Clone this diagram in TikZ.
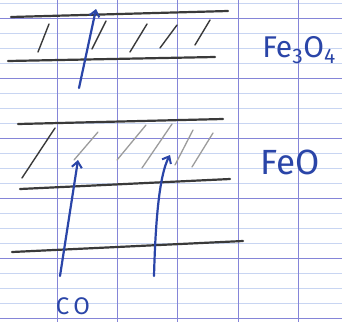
\documentclass[tikz,border=0pt]{standalone}
\usepackage{fontspec}
\setmainfont{Fira Sans}
\usetikzlibrary{arrows.meta}
\definecolor{ink}{HTML}{2A45A8}
\definecolor{major}{HTML}{8585D8}
\definecolor{minor}{HTML}{C8D5F2}
\definecolor{pencil}{HTML}{3A3A3A}
\definecolor{lightpencil}{HTML}{9C9C9C}
\tikzset{
  gridmajor/.style={draw=major, line width=0.9pt},
  gridminor/.style={draw=minor, line width=0.6pt},
  layerline/.style={draw=pencil, line width=2.2pt, line cap=round},
  hatch/.style={draw=pencil, line width=1.4pt, line cap=round},
  hatchlight/.style={draw=lightpencil, line width=1.3pt, line cap=round},
  flow/.style={draw=ink, line width=2.2pt, line cap=round, -{Straight Barb[length=6pt,width=10pt,line width=2pt]}},
  label/.style={text=ink, inner sep=0pt}
}
\begin{document}
\begin{tikzpicture}[x=1pt,y=-1pt]
\useasboundingbox (0,0) rectangle (342,322);
\fill[white] (0,0) rectangle (342,322);
% paper grid
\foreach \y in {3,33,48,63,93,108,123,153,168,183,213,228,243,273,288,303}
  \draw[gridminor] (0,\y) -- (342,\y);
\foreach \y in {18,78,138,198,258,318}
  \draw[gridmajor] (0,\y) -- (342,\y);
\foreach \x in {57,117,177,238,298}
  \draw[gridmajor] (\x,0) -- (\x,322);
% Fe3O4 layer
\draw[layerline] (11,17) -- (228,11);
\draw[layerline] (8,61) -- (215,57);
\draw[hatch] (38,52) -- (49,24);
\draw[hatch] (92,49) -- (106,21);
\draw[hatch] (130,52) -- (147,24);
\draw[hatch] (160,48) -- (177,25);
\draw[hatch] (195,45) -- (210,20);
% FeO layer
\draw[layerline] (18,124) -- (223,119);
\draw[layerline] (20,189) -- (230,179);
\draw[hatch] (22,178) -- (55,128);
\draw[hatchlight] (74,160) -- (98,132);
\draw[hatchlight] (117,160) -- (146,125);
\draw[hatchlight] (142,168) -- (172,124);
\draw[hatchlight] (175,165) -- (193,130);
\draw[hatchlight] (192,167) -- (213,133);
% bottom line
\draw[layerline] (12,252) -- (243,241);
% labels
\node[label, font=\fontsize{30}{30}\selectfont] (fe3o4) at (299,50) {Fe\textsubscript{3}O\textsubscript{4}};
\node[label, font=\fontsize{35}{35}\selectfont] (feo) at (290,162) {FeO};
\node[label, font=\fontsize{24}{24}\selectfont] (co) at (73,306) {C\,O};
% gas flow arrows
\coordinate (s1) at (60,276);
\coordinate (t1) at (78,160);
\coordinate (s2) at (154,276);
\coordinate (t2) at (170,155);
\coordinate (s3) at (79,88);
\coordinate (t3) at (96,9);
\draw[flow] (s1) -- (t1);
\draw[flow] (s2) .. controls (156,200) and (162,170) .. (t2);
\draw[flow] (s3) -- (t3);
\end{tikzpicture}
\end{document}
